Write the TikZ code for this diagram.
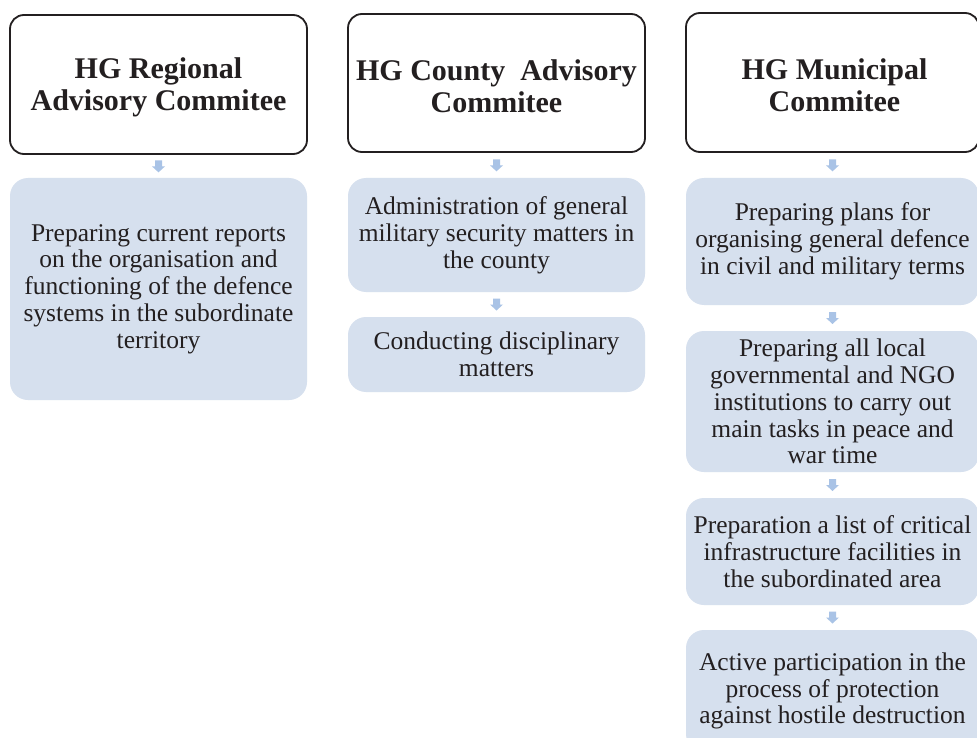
\documentclass[tikz,border=0pt]{standalone}
\usepackage{fontspec}
\setmainfont{Liberation Serif}
\usetikzlibrary{calc}
\definecolor{boxblue}{HTML}{D6E0EE}
\definecolor{arrblue}{HTML}{A9C3E6}
\definecolor{ink}{HTML}{231F20}
\tikzset{
  headbox/.style={draw=ink, line width=1.8pt, fill=white, rounded corners=14pt, inner sep=0pt},
  headtext/.style={text=ink, font=\fontsize{30}{32}\selectfont\bfseries, align=center, inner sep=0pt},
  itembox/.style={fill=boxblue, rounded corners=18pt, text=ink,
    font=\fontsize{25.5}{26.8}\selectfont, align=center, inner sep=0pt},
}
\newcommand\downarr[2]{%
  \coordinate (m) at ($(#1.south)!0.5!(#2.north)$);
  \fill[arrblue] ($(m)+(-3.5,-6)$) -- ($(m)+(3.5,-6)$) -- ($(m)+(3.5,0)$) -- ($(m)+(6.5,0)$)
    -- ($(m)+(0,6)$) -- ($(m)+(-6.5,0)$) -- ($(m)+(-3.5,0)$) -- cycle;}
\begin{document}
\begin{tikzpicture}[x=1pt,y=-1pt]
\clip (0,0) rectangle (977,738);
\fill[white] (0,0) rectangle (977,738);
% column 1
\node[headbox, minimum width=297, minimum height=139] (h1) at (158.5,84.5) {};
\node[headtext] (h1t) at ($(h1.center)+(0,3)$) {HG Regional\\Advisory Commitee};
\node[itembox, minimum width=297, minimum height=222] (b1) at (158.5,289) {Preparing current reports\\on the organisation and\\functioning of the defence\\systems in the subordinate\\territory};
% column 2
\node[headbox, minimum width=297, minimum height=138] (h2) at (496.5,83) {};
\node[headtext] (h2t) at ($(h2.center)+(0,3)$) {HG County\ \ Advisory\\Commitee};
\node[itembox, minimum width=297, minimum height=114] (c1) at (496.5,235) {Administration of general\\military security matters in\\the county};
\node[itembox, minimum width=297, minimum height=75] (c2) at (496.5,354.5) {Conducting disciplinary\\matters};
% column 3
\node[headbox, minimum width=293, minimum height=139] (h3) at (832.5,82.5) {};
\node[headtext] (h3t) at ($(h3.center)+(2,3)$) {HG Municipal\\Commitee};
\node[itembox, minimum width=293, minimum height=127] (d1) at (832.5,241.5) {Preparing plans for\\organising general defence\\in civil and military terms};
\node[itembox, minimum width=293, minimum height=141] (d2) at (832.5,401.5) {Preparing all local\\governmental and NGO\\institutions to carry out\\main tasks in peace and\\war time};
\node[itembox, minimum width=293, minimum height=107] (d3) at (832.5,551.5) {Preparation a list of critical\\infrastructure facilities in\\the subordinated area};
\node[itembox, minimum width=293, minimum height=122] (d4) at (832.5,691) {Active participation in the\\process of protection\\against hostile destruction};
% arrows
\downarr{h1}{b1}
\downarr{h2}{c1}
\downarr{c1}{c2}
\downarr{h3}{d1}
\downarr{d1}{d2}
\downarr{d2}{d3}
\downarr{d3}{d4}
\end{tikzpicture}
\end{document}
